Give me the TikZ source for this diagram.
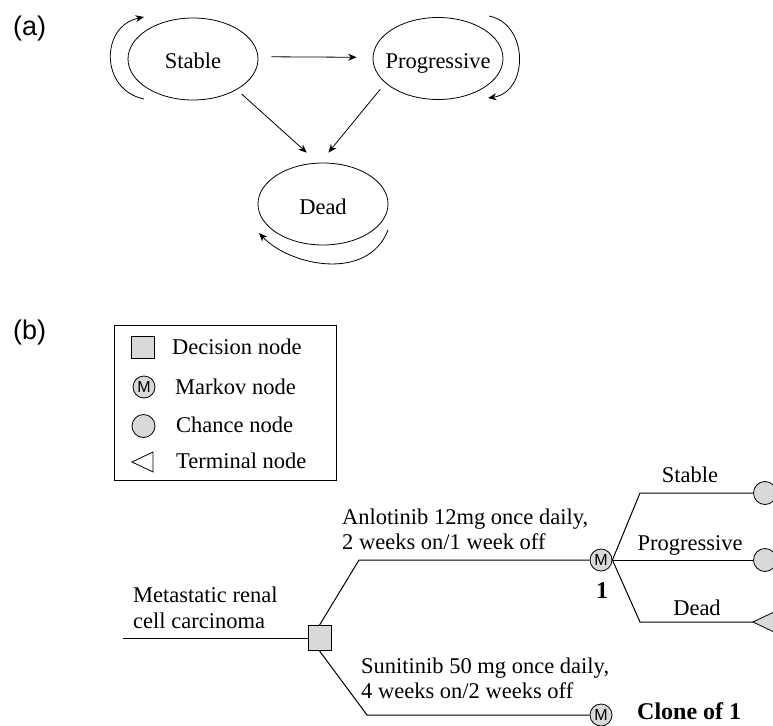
\documentclass[tikz,border=0pt]{standalone}
\usepackage{fontspec}
\setmainfont{Liberation Serif}
\newfontfamily\arialf{Liberation Sans}
\usetikzlibrary{shapes.geometric,arrows.meta}
\begin{document}
\begin{tikzpicture}[x=1pt,y=-1pt,
  state/.style={ellipse,draw,line width=0.8pt,minimum width=130pt,minimum height=82pt,inner sep=0pt,text height=20pt,text depth=0pt,font=\fontsize{22.5}{27}\selectfont},
  arr/.style={line width=0.8pt,-{Stealth[length=8.5pt,width=7pt]}},
  txt/.style={inner sep=0pt,font=\fontsize{22.5}{27}\selectfont},
  boldtxt/.style={inner sep=0pt,font=\bfseries\fontsize{24}{27}\selectfont},
  panel/.style={inner sep=0pt,anchor=base west,font=\arialf\fontsize{27}{30}\selectfont},
  branch/.style={line width=1pt},
  mnode/.style={circle,draw,fill=black!15,line width=0.8pt,minimum size=22pt,inner sep=0pt,font=\arialf\fontsize{16}{16}\selectfont},
  cnode/.style={circle,draw,fill=black!15,line width=0.8pt,minimum size=23pt,inner sep=0pt},
  dnode/.style={rectangle,draw,fill=black!15,line width=0.8pt,minimum width=23pt,minimum height=25pt,inner sep=0pt},
  tnode/.style={line width=0.8pt,fill=black!15},
]
\useasboundingbox (0,0) rectangle (773,725);
\fill[white] (0,0) rectangle (773,725);

% ---------------- panel (a)
\node[panel] (pa) at (13,36) {(a)};
\node[state] (st) at (193,59) {\makebox[0pt]{Stable}};
\node[state] (pg) at (438,58.5) {\makebox[0pt]{Progressive}};
\node[state] (dd) at (323,204) {\makebox[0pt]{Dead}};

\draw[arr,shorten <=13pt,shorten >=16pt] (st.2) -- (pg.179);
\draw[arr,shorten <=6.5pt,shorten >=15pt] (st.-35) -- (dd.97);
\draw[arr,shorten <=8pt,shorten >=13pt] (pg.-155) -- (dd.94);

\coordinate (sl1) at (144,99);
\coordinate (sl2) at (144,17);
\coordinate (pl1) at (489,16);
\coordinate (pl2) at (488,98);
\coordinate (dl1) at (388,230);
\coordinate (dl2) at (259,233);
\draw[arr] (sl1) .. controls (100,90) and (100,26) .. (sl2);
\draw[arr] (pl1) .. controls (529,24) and (529,92) .. (pl2);
\draw[arr] (dl1) .. controls (368,282) and (290,266) .. (dl2);

% ---------------- panel (b)
\node[panel] (pb) at (13,339) {(b)};

% legend
\draw[line width=0.8pt] (114,325) rectangle (336,480);
\node[dnode,minimum height=22pt] (lg1) at (142.5,347) {};
\node[mnode] (lg2) at (144,387) {M};
\node[cnode] (lg3) at (143.5,426) {};
\draw[line width=0.8pt] (132,462) -- (153,452) -- (153,472) -- cycle;
\node[txt,anchor=base west] (lt1) at (172,354) {Decision node};
\node[txt,anchor=base west] (lt2) at (175,394) {Markov node};
\node[txt,anchor=base west] (lt3) at (176,432) {Chance node};
\node[txt,anchor=base west] (lt4) at (176,468) {Terminal node};

% tree
\coordinate (r0) at (123,638);
\node[dnode] (dec) at (319.5,638) {};
\coordinate (ku) at (359,560);
\coordinate (kl) at (367,715);
\node[mnode] (m1) at (601,560) {M};
\node[mnode] (m2) at (601,715) {M};
\coordinate (ks) at (640,493);
\coordinate (kd) at (640,622);
\node[cnode] (c1) at (765,493) {};
\node[cnode] (c2) at (765,560) {};
\coordinate (tt) at (753,622);

\draw[branch] (r0) -- (dec);
\draw[branch] (dec.north) -- (ku) -- (m1);
\draw[branch] (dec.south) -- (kl) -- (m2);
\draw[branch] (m1.east) -- (ks) -- (c1);
\draw[branch] (m1.east) -- (c2);
\draw[branch] (m1.east) -- (kd) -- (tt);
\draw[tnode] (tt) -- (776,611) -- (776,633) -- cycle;

\node[txt,anchor=base west] (root1) at (133,602) {Metastatic renal};
\node[txt,anchor=base west] (root2) at (133,628) {cell carcinoma};
\node[txt,anchor=base west] (an1) at (342,524) {Anlotinib 12mg once daily,};
\node[txt,anchor=base west] (an2) at (342,549) {2 weeks on/1 week off};
\node[txt,anchor=base west] (su1) at (361,673) {Sunitinib 50 mg once daily,};
\node[txt,anchor=base west] (su2) at (361,698) {4 weeks on/2 weeks off};
\node[boldtxt,anchor=base] (one) at (602,598) {1};
\node[boldtxt,anchor=base west] (clone) at (637,719) {Clone of 1};
\node[txt,anchor=base] (bs) at (690,482) {Stable};
\node[txt,anchor=base] (bp) at (690,550) {Progressive};
\node[txt,anchor=base] (bd) at (697,615) {Dead};
\end{tikzpicture}
\end{document}
